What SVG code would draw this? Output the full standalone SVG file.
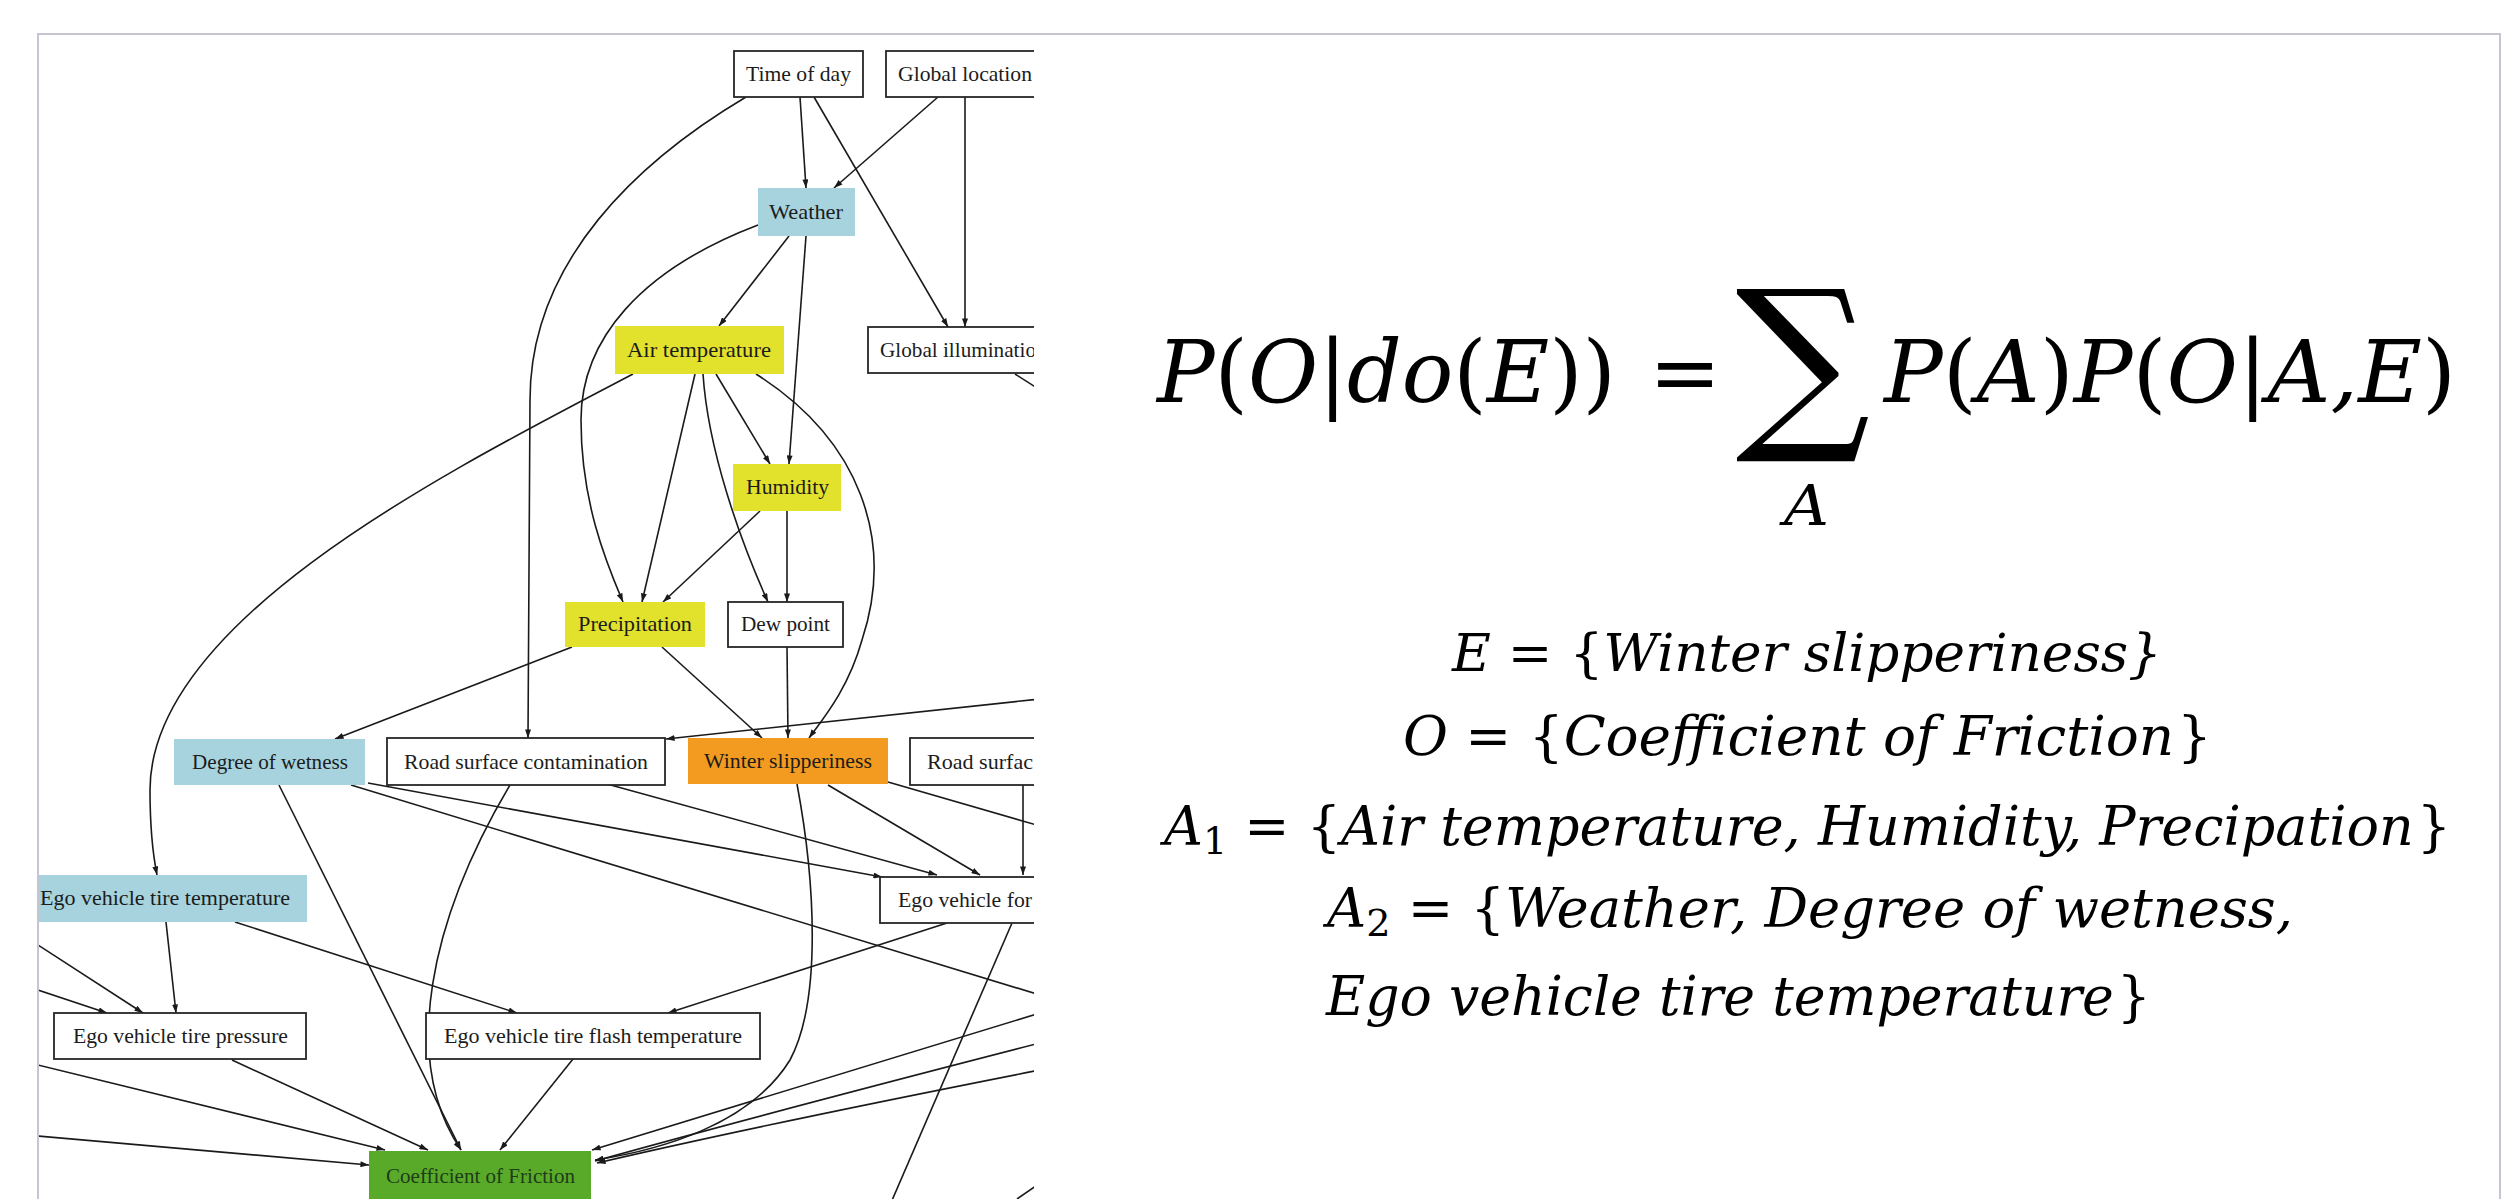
<svg xmlns="http://www.w3.org/2000/svg" width="2504" height="1199" viewBox="0 0 2504 1199">
<defs>
<style>
.frame{fill:none;stroke:#c6c6d2;stroke-width:2}
.box{fill:#fff;stroke:#262626;stroke-width:1.8}
.blue{fill:#a6d3dd;stroke:none}
.yellow{fill:#e2e22c;stroke:none}
.orange{fill:#f29b20;stroke:none}
.green{fill:#5aaa2a;stroke:none}
.lbl{font-family:"Liberation Serif","DejaVu Serif",serif;font-size:22px;fill:#1c1c1c}
.lblg{font-family:"Liberation Serif","DejaVu Serif",serif;font-size:22px;fill:#1d3d18}
.edge{fill:none;stroke:#1a1a1a;stroke-width:1.6}
.arr{marker-end:url(#ah)}
.math{font-family:"DejaVu Serif","Liberation Serif",serif;font-style:italic;fill:#000}
.up{font-style:normal}
</style>
<marker id="ah" viewBox="0 0 10 7" refX="10" refY="3.5" markerWidth="9" markerHeight="6" markerUnits="userSpaceOnUse" orient="auto">
<path d="M0,0 L10,3.5 L0,7 z" fill="#1a1a1a"/>
</marker>
<clipPath id="gclip"><rect x="39" y="35" width="995" height="1164"/></clipPath>
</defs>
<rect width="2504" height="1199" fill="#fff"/>
<path class="frame" d="M38,1199 V34 H2500 V1199"/>

<g clip-path="url(#gclip)">
<g id="connectors">
<path class="edge arr" d="M800,97 L806,188"/>
<path class="edge arr" d="M814,97 L948,327"/>
<path class="edge arr" d="M938,97 L834,188"/>
<path class="edge arr" d="M965,97 L965,327"/>
<path class="edge arr" d="M746,97 C640,160 530,260 530,400 L528,738"/>
<path class="edge arr" d="M758,225 C640,270 581,340 581,420 C581,500 605,560 623,602"/>
<path class="edge arr" d="M789,236 L719,326"/>
<path class="edge arr" d="M806,236 L789,464"/>
<path class="edge arr" d="M633,374 C450,470 150,620 150,790 Q150,840 157,875"/>
<path class="edge arr" d="M695,374 L642,602"/>
<path class="edge arr" d="M703,374 C708,450 740,540 768,602"/>
<path class="edge arr" d="M716,374 L770,464"/>
<path class="edge arr" d="M756,374 C860,440 895,540 862,640 C848,690 822,720 809,738"/>
<path class="edge arr" d="M760,511 L663,602"/>
<path class="edge arr" d="M787,511 L787,602"/>
<path class="edge arr" d="M787,647 L788,738"/>
<path class="edge arr" d="M662,647 L762,738"/>
<path class="edge arr" d="M572,647 L335,739"/>
<path class="edge arr" d="M1040,699 L666,739"/>
<path class="edge arr" d="M797,784 C815,880 822,1000 790,1060 C750,1125 660,1150 595,1160"/>
<path class="edge arr" d="M828,785 L980,875"/>
<path class="edge" d="M888,782 L1040,826"/>
<path class="edge arr" d="M1023,785 L1023,875"/>
<path class="edge arr" d="M607,784 L937,875"/>
<path class="edge arr" d="M368,783 L882,877"/>
<path class="edge" d="M351,785 L1040,995"/>
<path class="edge arr" d="M279,785 L461,1150"/>
<path class="edge arr" d="M510,785 C430,920 400,1060 461,1150"/>
<path class="edge arr" d="M235,922 L517,1013"/>
<path class="edge arr" d="M166,922 L176,1013"/>
<path class="edge arr" d="M38,945 L143,1013"/>
<path class="edge arr" d="M38,990 L107,1013"/>
<path class="edge arr" d="M38,1065 L385,1150"/>
<path class="edge arr" d="M38,1136 L369,1165"/>
<path class="edge arr" d="M232,1060 L428,1150"/>
<path class="edge arr" d="M573,1059 L500,1150"/>
<path class="edge arr" d="M947,923 L668,1013"/>
<path class="edge" d="M1012,923 L890,1205"/>
<path class="edge arr" d="M1040,1013 L592,1150"/>
<path class="edge arr" d="M1040,1043 Q760,1115 595,1161"/>
<path class="edge arr" d="M1040,1070 Q760,1125 597,1163"/>
<path class="edge" d="M1015,374 L1040,390"/>
<path class="edge" d="M1017,1199 L1040,1183"/>
</g>

<g id="n-time-of-day"><rect class="box" x="734" y="51" width="129" height="46"/><text class="lbl" x="746" y="81" textLength="105" lengthAdjust="spacingAndGlyphs">Time of day</text></g>
<g id="n-global-location"><rect class="box" x="886" y="51" width="170" height="46"/><text class="lbl" x="898" y="81" textLength="134" lengthAdjust="spacingAndGlyphs">Global location</text></g>
<g id="n-weather"><rect class="blue" x="758" y="188" width="97" height="48"/><text class="lbl" x="769" y="219" textLength="74" lengthAdjust="spacingAndGlyphs">Weather</text></g>
<g id="n-air-temperature"><rect class="yellow" x="615" y="326" width="169" height="48"/><text class="lbl" x="627" y="357" textLength="144" lengthAdjust="spacingAndGlyphs">Air temperature</text></g>
<g id="n-global-illumination"><rect class="box" x="868" y="327" width="190" height="46"/><text class="lbl" x="880" y="357" textLength="156" lengthAdjust="spacingAndGlyphs">Global illuminatio</text></g>
<g id="n-humidity"><rect class="yellow" x="733" y="464" width="108" height="47"/><text class="lbl" x="746" y="494" textLength="83" lengthAdjust="spacingAndGlyphs">Humidity</text></g>
<g id="n-precipitation"><rect class="yellow" x="565" y="602" width="140" height="45"/><text class="lbl" x="578" y="631" textLength="114" lengthAdjust="spacingAndGlyphs">Precipitation</text></g>
<g id="n-dew-point"><rect class="box" x="728" y="602" width="115" height="45"/><text class="lbl" x="741" y="631" textLength="89" lengthAdjust="spacingAndGlyphs">Dew point</text></g>
<g id="n-degree-of-wetness"><rect class="blue" x="174" y="739" width="191" height="46"/><text class="lbl" x="192" y="769" textLength="156" lengthAdjust="spacingAndGlyphs">Degree of wetness</text></g>
<g id="n-road-surface-contamination"><rect class="box" x="387" y="738" width="278" height="47"/><text class="lbl" x="404" y="769" textLength="244" lengthAdjust="spacingAndGlyphs">Road surface contamination</text></g>
<g id="n-winter-slipperiness"><rect class="orange" x="688" y="738" width="200" height="46"/><text class="lbl" x="704" y="768" textLength="168" lengthAdjust="spacingAndGlyphs">Winter slipperiness</text></g>
<g id="n-road-surface"><rect class="box" x="910" y="738" width="160" height="47"/><text class="lbl" x="927" y="769" textLength="106" lengthAdjust="spacingAndGlyphs">Road surfac</text></g>
<g id="n-ego-vehicle-tire-temperature"><rect class="blue" x="30" y="875" width="277" height="47"/><text class="lbl" x="40" y="905" textLength="250" lengthAdjust="spacingAndGlyphs">Ego vehicle tire temperature</text></g>
<g id="n-ego-vehicle-force"><rect class="box" x="880" y="877" width="180" height="46"/><text class="lbl" x="898" y="907" textLength="134" lengthAdjust="spacingAndGlyphs">Ego vehicle for</text></g>
<g id="n-ego-vehicle-tire-pressure"><rect class="box" x="54" y="1013" width="252" height="46"/><text class="lbl" x="73" y="1043" textLength="215" lengthAdjust="spacingAndGlyphs">Ego vehicle tire pressure</text></g>
<g id="n-ego-vehicle-tire-flash-temperature"><rect class="box" x="426" y="1013" width="334" height="46"/><text class="lbl" x="444" y="1043" textLength="298" lengthAdjust="spacingAndGlyphs">Ego vehicle tire flash temperature</text></g>
<g id="n-coefficient-of-friction"><rect class="green" x="369" y="1151" width="222" height="60"/><text class="lblg" x="386" y="1183" textLength="189" lengthAdjust="spacingAndGlyphs">Coefficient of Friction</text></g>
</g>

<g id="formula">
<text class="math" x="1157" y="402" font-size="86" textLength="459" lengthAdjust="spacingAndGlyphs">P<tspan class="up">(</tspan>O<tspan class="up">|</tspan>do<tspan class="up">(</tspan>E<tspan class="up">))</tspan></text>
<text class="math up" x="1685" y="402" font-size="86" text-anchor="middle">=</text>
<text x="1803" y="425" font-family="DejaVu Serif" font-size="189" text-anchor="middle" fill="#000">∑</text>
<text class="math" x="1784" y="525" font-size="56" textLength="45" lengthAdjust="spacingAndGlyphs">A</text>
<text class="math" x="1884" y="402" font-size="86" textLength="572" lengthAdjust="spacingAndGlyphs">P<tspan class="up">(</tspan>A<tspan class="up">)</tspan>P<tspan class="up">(</tspan>O<tspan class="up">|</tspan>A,E<tspan class="up">)</tspan></text>

<text class="math" x="1452" y="671" font-size="52" textLength="710" lengthAdjust="spacingAndGlyphs">E <tspan class="up">= {</tspan>Winter slipperiness}</text>
<text class="math" x="1403" y="755" font-size="54" textLength="809" lengthAdjust="spacingAndGlyphs">O <tspan class="up">= {</tspan>Coefficient of Friction<tspan class="up" dx="3">}</tspan></text>
<text class="math" x="1164" y="845" font-size="54" textLength="1287" lengthAdjust="spacingAndGlyphs">A<tspan class="up" font-size="38" dy="9">1</tspan><tspan class="up" dy="-9"> = {</tspan>Air temperature, Humidity, Precipation<tspan class="up" dx="3">}</tspan></text>
<text class="math" x="1327" y="927" font-size="54" textLength="966" lengthAdjust="spacingAndGlyphs">A<tspan class="up" font-size="38" dy="9">2</tspan><tspan class="up" dy="-9"> = {</tspan>Weather, Degree of wetness,</text>
<text class="math" x="1326" y="1015" font-size="54" textLength="825" lengthAdjust="spacingAndGlyphs">Ego vehicle tire temperature<tspan class="up" dx="3">}</tspan></text>
</g>
</svg>
